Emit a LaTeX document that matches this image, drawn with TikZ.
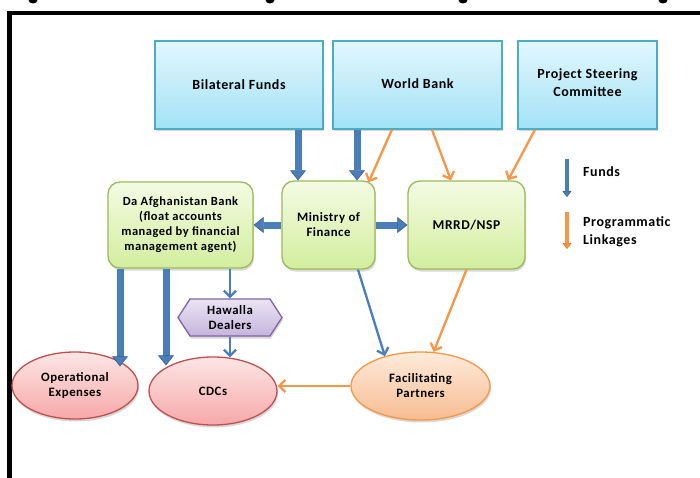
\documentclass[tikz,border=0pt]{standalone}
\usepackage{fontspec}
\setmainfont{Carlito}[LetterSpace=4.0]
\usetikzlibrary{arrows.meta,shapes.geometric,shapes.symbols,shadows,calc}
\definecolor{bluetop}{HTML}{E2F7FD}
\definecolor{bluebot}{HTML}{A3E2F7}
\definecolor{blueline}{HTML}{4BACC6}
\definecolor{greentop}{HTML}{F4FBE3}
\definecolor{greenbot}{HTML}{D2EE9E}
\definecolor{greenline}{HTML}{9BBB59}
\definecolor{purptop}{HTML}{EAE5F3}
\definecolor{purpbot}{HTML}{C5B4DC}
\definecolor{purpline}{HTML}{8064A2}
\definecolor{redtop}{HTML}{FDE6E6}
\definecolor{redbot}{HTML}{F7A8A8}
\definecolor{redline}{HTML}{C0504D}
\definecolor{orgtop}{HTML}{FEEBDA}
\definecolor{orgbot}{HTML}{F7BC92}
\definecolor{orgline}{HTML}{F79646}
\definecolor{fundblue}{HTML}{4A7EBB}
\definecolor{funddark}{HTML}{385D8A}
\definecolor{progorange}{HTML}{F79646}
\definecolor{progdark}{HTML}{E46C0A}
\tikzset{
  shade/.style={drop shadow={opacity=0.3, shadow xshift=1pt, shadow yshift=-2.5pt}},
  smalltext/.style={font=\bfseries\fontsize{12.8}{15}\selectfont},
  topbox/.style={rectangle, draw=blueline, line width=1.3pt, top color=bluetop, bottom color=bluebot, align=center, inner sep=0pt, shade},
  greenbox/.style={rectangle, rounded corners=12pt, draw=greenline, line width=1.3pt, top color=greentop, bottom color=greenbot, align=center, inner sep=0pt, shade},
  hexbox/.style={signal, signal to=west and east, signal pointer angle=114, draw=purpline, line width=1.3pt, top color=purptop, bottom color=purpbot, align=center, inner sep=0pt, minimum width=104pt, minimum height=37pt, shade, smalltext},
  redell/.style={ellipse, draw=redline, line width=1.3pt, top color=redtop, bottom color=redbot, align=center, inner sep=0pt, shade, smalltext},
  orgell/.style={ellipse, draw=orgline, line width=1.3pt, top color=orgtop, bottom color=orgbot, align=center, inner sep=0pt, shade, smalltext},
  fund/.style={draw=fundblue, line width=7pt, -{Triangle[length=10pt,width=16pt,line width=0.6pt,color=funddark,fill=fundblue]}},
  fundthin/.style={draw=fundblue, line width=2.3pt, -{Straight Barb[length=6pt,width=12pt]}},
  prog/.style={draw=progorange, line width=2.3pt, -{Straight Barb[length=6pt,width=12pt]}},
  legfund/.style={draw=fundblue, line width=3.5pt, -{Triangle[length=6pt,width=9pt,line width=0.5pt,color=funddark,fill=fundblue]}},
  legprog/.style={draw=progorange, line width=3.5pt, -{Triangle[length=6pt,width=9pt,line width=0.5pt,color=progdark,fill=progorange]}},
  frame/.style={draw=black, line width=4.5pt},
  legtext/.style={anchor=west, align=left, inner sep=0pt}
}
\begin{document}
\begin{tikzpicture}[x=1pt, y=-1pt, font=\bfseries\fontsize{14}{15}\selectfont]
\useasboundingbox (0,0) rectangle (700,478);
\fill[white] (0,0) rectangle (700,478);
% fragments of clipped caption above
\foreach \gx in {33,270,463,663} \fill[black] (\gx,0) ellipse (4.5pt and 3.5pt);
% frame
\draw[frame] (9.5,478) -- (9.5,13) -- (700,13);

% top boxes
\node[topbox, minimum width=168pt, minimum height=88pt] (bf) at (239,85) {Bilateral Funds};
\node[topbox, minimum width=169pt, minimum height=88pt] (wb) at (417.5,85) {\raisebox{3pt}{World Bank}};
\node[topbox, minimum width=139pt, minimum height=88pt] (psc) at (587.5,85) {\raisebox{6pt}{\begin{tabular}{@{}c@{}}Project Steering\\[3pt]Committee\end{tabular}}};

% middle boxes
\node[greenbox, minimum width=145pt, minimum height=86pt, font=\bfseries\fontsize{12.5}{15}\selectfont] (dab) at (180.5,225) {Da Afghanistan Bank\\(float accounts\\managed by financial\\management agent)};
\node[greenbox, minimum width=93pt, minimum height=88pt, smalltext] (mof) at (328.5,225) {Ministry of\\Finance};
\node[greenbox, minimum width=117pt, minimum height=88pt, font=\bfseries\fontsize{13.5}{15}\selectfont] (mrrd) at (466.5,225) {MRRD/NSP};

% hawalla
\node[hexbox] (haw) at (230,317.5) {Hawalla\\Dealers};

% ellipses
\node[redell, minimum width=126pt, minimum height=67pt] (ope) at (75,385.5) {Operational\\Expenses};
\node[redell, minimum width=128pt, minimum height=68pt] (cdc) at (213,391) {CDCs};
\node[orgell, minimum width=139pt, minimum height=68pt] (fp) at (420.5,386) {Facilitating\\Partners};

% fund arrows
\draw[fund] ([xshift=-30.5pt]mof.north |- bf.south) -- ([xshift=-30.5pt]mof.north);
\draw[fund] ([xshift=28.5pt]mof.north |- wb.south) -- ([xshift=28.5pt]mof.north);
\draw[fund] (mof.west) -- (dab.east);
\draw[fund] (mof.east) -- (mrrd.west);
\draw[fund] ([xshift=-60.5pt]dab.south) -- ([xshift=-60.5pt,yshift=-15pt]dab.south |- ope.north);
\draw[fund] ([xshift=-14.5pt]dab.south) -- ([xshift=-14.5pt,yshift=-9pt]dab.south |- cdc.north);

% thin fund arrows
\draw[fundthin] ([xshift=49.5pt]dab.south) -- (haw.north);
\draw[fundthin] (haw.south) -- ([yshift=-1pt]haw.south |- cdc.north);
\draw[fundthin] ([xshift=29.5pt]mof.south) -- (fp.140);

% programmatic linkages
\draw[prog] ([xshift=-25.5pt]wb.south) -- ([xshift=40pt,yshift=-2pt]mof.north);
\draw[prog] ([xshift=14.5pt]wb.south) -- ([xshift=-15.5pt]mrrd.north);
\draw[prog] ([xshift=-52.5pt]psc.south) -- ([xshift=41.5pt]mrrd.north);
\draw[prog] (mrrd.south) -- (fp.69);
\draw[prog] (fp.west) -- (fp.west -| cdc.east);

% legend
\coordinate (lf1) at (567,159);
\coordinate (lf2) at (567,197);
\coordinate (lp1) at (567,212);
\coordinate (lp2) at (567,249);
\draw[legfund] (lf1) -- (lf2);
\draw[legprog] (lp1) -- (lp2);
\node[legtext] (lft) at (583,172) {Funds};
\node[legtext] (lpt) at (583,232) {Programmatic\\[3pt]Linkages};
\end{tikzpicture}
\end{document}
